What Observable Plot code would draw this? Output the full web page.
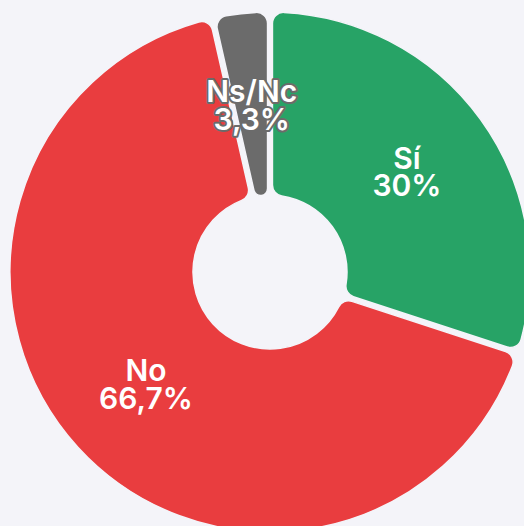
<!DOCTYPE html>
<html>
<head>
<meta charset="utf-8">
<script src="https://cdn.jsdelivr.net/npm/d3@7"></script>
<script src="https://cdn.jsdelivr.net/npm/@observablehq/plot@0.6"></script>
<style>
  html, body { margin: 0; padding: 0; background: #f4f4f9; }
  #chart { width: 524px; height: 526px; overflow: hidden; }
</style>
</head>
<body>
<div id="chart"></div>
<script>
const categories = ["Sí", "No", "Ns/Nc"];
const values = [30, 66.7, 3.3];
const valueLabels = ["30%", "66,7%", "3,3%"];
const colors = ["#27a366", "#e93d3f", "#6b6b6b"];

const W = 524, H = 526;
const innerR = 77, outerR = 260;

const rows = categories.map((c, i) => ({ category: c, value: values[i], label: valueLabels[i], color: colors[i] }));
const arcs = d3.pie().value(d => d.value).sort(null).padAngle(0.018)(rows);
const mid = (innerR + outerR) / 2;
const labelRows = arcs.map(a => {
  const ang = (a.startAngle + a.endAngle) / 2;
  return { ...a.data, x: mid * Math.sin(ang), y: mid * Math.cos(ang) };
});

function donut(index, scales, values, dimensions, context) {
  const cx = scales.x(0), cy = scales.y(0);
  const k = scales.x(1) - scales.x(0);
  const arc = d3.arc().innerRadius(innerR * k).outerRadius(outerR * k).cornerRadius(11);
  const g = d3.create("svg:g").attr("transform", `translate(${cx},${cy})`);
  g.selectAll("path").data(arcs).join("path")
    .attr("d", arc)
    .attr("fill", d => d.data.color)
    .attr("stroke", "#f4f4f9")
    .attr("stroke-width", 1.5);
  return g.node();
}

const chart = Plot.plot({
  width: W, height: H,
  margin: 0,
  style: { background: "#f4f4f9", fontFamily: "Inter, sans-serif", overflow: "hidden" },
  x: { domain: [-270, 254], axis: null },
  y: { domain: [-254, 272], axis: null },
  marks: [
    donut,
    Plot.text(labelRows.filter(d => d.category !== "Ns/Nc"), {
      x: "x", y: "y",
      text: d => d.category + "\n" + d.label,
      fill: "white", fontSize: 30, fontWeight: 600, lineHeight: 0.92
    }),
    Plot.text(labelRows.filter(d => d.category === "Ns/Nc"), {
      x: "x", y: "y", dy: 2,
      text: d => d.category + "\n" + d.label,
      fill: "white", stroke: "#6b6b6b", strokeWidth: 4,
      fontSize: 30, fontWeight: 600, lineHeight: 0.92
    })
  ]
});
document.getElementById("chart").append(chart);
</script>
</body>
</html>
